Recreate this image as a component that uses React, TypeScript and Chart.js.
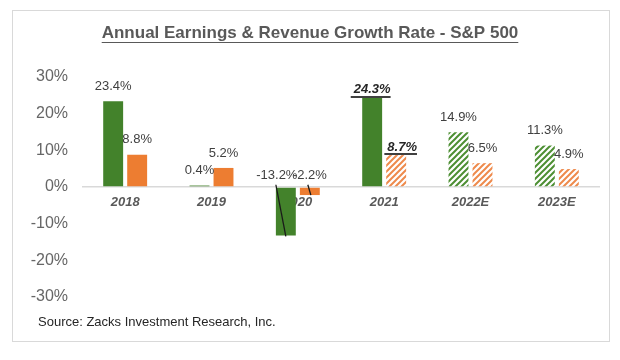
import React, { useEffect, useRef } from "react";
import { Chart, registerables } from "chart.js";

Chart.register(...registerables);

const categories = ["2018", "2019", "2020", "2021", "2022E", "2023E"];
const earningsGrowth = [23.4, 0.4, -13.2, 24.3, 14.9, 11.3];
const revenueGrowth = [8.8, 5.2, -2.2, 8.7, 6.5, 4.9];
const earningsEstimated = [false, false, false, false, true, true];
const revenueEstimated = [false, false, false, true, true, true];
const yTicks = [-30, -20, -10, 0, 10, 20, 30];
const highlightedCategories = ["2021"];
const struckCategories = ["2020"];

const TITLE = "Annual Earnings & Revenue Growth Rate - S&P 500";
const SOURCE = "Source: Zacks Investment Research, Inc.";

const GREEN = "#43822b";
const ORANGE = "#ed7d31";
const HATCH_GREEN = "#4d8f33";
const HATCH_ORANGE = "#ee8a4c";

function hatch(color: string): CanvasPattern | string {
  const c = document.createElement("canvas");
  c.width = 6;
  c.height = 6;
  const g = c.getContext("2d");
  if (!g) return color;
  g.fillStyle = "#ffffff";
  g.fillRect(0, 0, 6, 6);
  g.strokeStyle = color;
  g.lineWidth = 2;
  g.beginPath();
  g.moveTo(-1, 7);
  g.lineTo(7, -1);
  g.moveTo(-4, 4);
  g.lineTo(4, -4);
  g.moveTo(2, 10);
  g.lineTo(10, 2);
  g.stroke();
  return g.createPattern(c, "repeat") || color;
}

const decorPlugin = {
  id: "decor",
  beforeDraw(chart: any) {
    const ctx = chart.ctx;
    ctx.save();
    ctx.fillStyle = "#ffffff";
    ctx.fillRect(0, 0, chart.width, chart.height);
    ctx.strokeStyle = "#d9d9d9";
    ctx.lineWidth = 1;
    ctx.strokeRect(12.5, 10.5, 597, 331);
    // title
    ctx.font = "bold 17px 'Liberation Sans', Arial, sans-serif";
    ctx.fillStyle = "#595959";
    ctx.textAlign = "center";
    ctx.textBaseline = "middle";
    const cx = (chart.chartArea.left + chart.chartArea.right) / 2 - 31;
    ctx.fillText(TITLE, cx, 33);
    const tw = ctx.measureText(TITLE).width;
    ctx.strokeStyle = "#595959";
    ctx.lineWidth = 1.2;
    ctx.beginPath();
    ctx.moveTo(cx - tw / 2, 42.5);
    ctx.lineTo(cx + tw / 2, 42.5);
    ctx.stroke();
    // source
    ctx.font = "13px 'Liberation Sans', Arial, sans-serif";
    ctx.fillStyle = "#262626";
    ctx.textAlign = "left";
    ctx.fillText(SOURCE, 38, 322);
    ctx.restore();
  },
  afterDatasetsDraw(chart: any) {
    const ctx = chart.ctx;
    ctx.save();
    ctx.textBaseline = "middle";
    chart.data.datasets.forEach((ds: any, di: number) => {
      const meta = chart.getDatasetMeta(di);
      meta.data.forEach((bar: any, i: number) => {
        const v = ds.data[i] as number;
        const cat = categories[i];
        const text = v.toFixed(1) + "%";
        const hl = highlightedCategories.includes(cat);
        ctx.font = hl
          ? "italic bold 13px 'Liberation Sans', Arial, sans-serif"
          : "13px 'Liberation Sans', Arial, sans-serif";
        ctx.fillStyle = hl ? "#262626" : "#404040";
        let x = bar.x;
        let y: number;
        if (v < 0) {
          y = bar.base - 12;
          if (di === 0) x = bar.x - 9;
        } else if (hl) {
          y = bar.y - 8;
          x = bar.x + (di === 1 ? 6 : 0);
        } else {
          y = bar.y - 15;
        }
        ctx.textAlign = "center";
        ctx.fillText(text, x, y);
        if (hl) {
          const w = ctx.measureText(text).width;
          const left = x - w / 2;
          ctx.strokeStyle = "#000000";
          ctx.lineWidth = 1.5;
          ctx.beginPath();
          ctx.moveTo(left - 3, bar.y - 1);
          ctx.lineTo(left + w, bar.y - 1);
          ctx.stroke();
        }
        if (struckCategories.includes(cat) && v < 0) {
          ctx.strokeStyle = "#1a1a1a";
          ctx.lineWidth = 1.3;
          ctx.beginPath();
          if (di === 0) {
            ctx.moveTo(bar.x - bar.width / 2, bar.base - 3);
            ctx.lineTo(bar.x, bar.y + 1);
          } else {
            ctx.moveTo(bar.x - 2, bar.base - 3);
            ctx.lineTo(bar.x + 1, bar.y);
          }
          ctx.stroke();
        }
      });
    });
    ctx.restore();
  },
};

export default function App() {
  const ref = useRef<HTMLCanvasElement>(null);

  useEffect(() => {
    if (!ref.current) return;
    const greenHatch = hatch(HATCH_GREEN);
    const orangeHatch = hatch(HATCH_ORANGE);
    const chart = new Chart(ref.current, {
      type: "bar",
      data: {
        labels: categories,
        datasets: [
          {
            label: "Earnings Growth",
            data: earningsGrowth,
            backgroundColor: earningsEstimated.map((e) => (e ? greenHatch : GREEN)) as any,
            categoryPercentage: 0.556,
            barPercentage: 0.83,
          },
          {
            label: "Revenue Growth",
            data: revenueGrowth,
            backgroundColor: revenueEstimated.map((e) => (e ? orangeHatch : ORANGE)) as any,
            categoryPercentage: 0.556,
            barPercentage: 0.83,
          },
        ],
      },
      options: {
        animation: false,
        responsive: false,
        maintainAspectRatio: false,
        layout: { padding: { top: 77, bottom: 63, left: 0, right: 20 } },
        plugins: {
          legend: { display: false },
          title: { display: false },
          tooltip: { enabled: false },
        },
        scales: {
          x: {
            position: { y: 0 } as any,
            grid: { display: false, drawTicks: false },
            border: { display: false },
            ticks: {
              color: "#595959",
              padding: 8,
              font: { family: "'Liberation Sans', Arial, sans-serif", size: 13, style: "italic", weight: "bold" },
            },
          },
          y: {
            min: -30,
            max: 30,
            afterBuildTicks: (scale: any) => {
              scale.ticks = yTicks.map((v) => ({ value: v }));
            },
            afterFit: (scale: any) => {
              scale.width = 82;
            },
            grid: {
              drawTicks: false,
              color: (c: any) => (c.tick && c.tick.value === 0 ? "#d9d9d9" : "rgba(0,0,0,0)"),
              lineWidth: 1.5,
            },
            border: { display: false },
            ticks: {
              color: "#666666",
              padding: 14,
              font: { family: "'Liberation Sans', Arial, sans-serif", size: 16 },
              callback: (v: any) => v + "%",
            },
          },
        },
      },
      plugins: [decorPlugin],
    });
    return () => chart.destroy();
  }, []);

  return (
    <div style={{ position: "absolute", left: 0, top: 0, width: 620, height: 360, background: "#fff" }}>
      <canvas ref={ref} width={620} height={360} style={{ display: "block", width: 620, height: 360 }} />
    </div>
  );
}
